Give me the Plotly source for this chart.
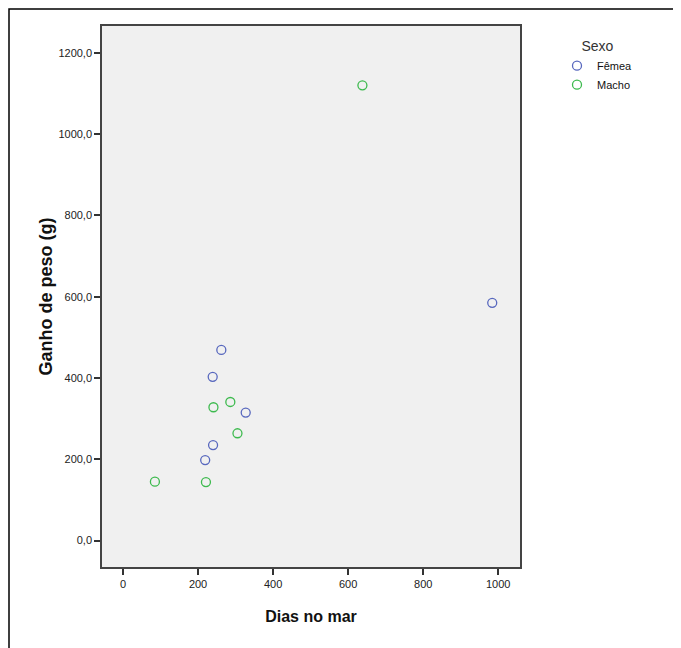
import plotly.graph_objects as go

# Data
femea_dias = [262, 239, 327, 240, 219, 984]
femea_ganho = [469, 403, 315, 235, 198, 585]
macho_dias = [638, 286, 241, 305, 85, 221]
macho_ganho = [1120, 341, 328, 264, 145, 144]

x_ticks = [0, 200, 400, 600, 800, 1000]
y_ticks = [0, 200, 400, 600, 800, 1000, 1200]
y_labels = ["0,0", "200,0", "400,0", "600,0", "800,0", "1000,0", "1200,0"]

W, H = 681, 648
L, R, T, B = 94, 169, 18, 89
pw, ph = W - L - R, H - T - B

fig = go.Figure()
fig.add_trace(go.Scatter(x=femea_dias, y=femea_ganho, mode="markers", name="Fêmea",
                         marker=dict(symbol="circle-open", size=9, color="#5868BE",
                                     line=dict(width=1.3, color="#5868BE"))))
fig.add_trace(go.Scatter(x=macho_dias, y=macho_ganho, mode="markers", name="Macho",
                         marker=dict(symbol="circle-open", size=9, color="#3DBA4E",
                                     line=dict(width=1.3, color="#3DBA4E"))))

def px_x(p):
    return (p - L) / pw

def px_y(p):
    return 1 - (p - T) / ph

fig.add_shape(type="rect", xref="paper", yref="paper",
              x0=px_x(1), x1=px_x(700), y0=px_y(1), y1=px_y(700),
              line=dict(color="black", width=1.5), fillcolor="rgba(0,0,0,0)", layer="below")

fig.update_layout(
    width=W, height=H,
    margin=dict(l=L, r=R, t=T, b=B),
    paper_bgcolor="white",
    plot_bgcolor="#F0F0F0",
    font=dict(family="Liberation Sans, Arial, sans-serif", size=11, color="#222"),
    showlegend=True,
    legend=dict(
        title=dict(text="Sexo", side="top center", font=dict(size=14, color="#333")),
        x=px_x(549), y=px_y(25), xanchor="left", yanchor="top",
        font=dict(size=11, color="#111"),
        bgcolor="rgba(0,0,0,0)", tracegroupgap=0, itemwidth=30,
    ),
    xaxis=dict(
        range=[-56, 1058], tickvals=x_ticks, ticks="outside", ticklen=6, tickwidth=1.5,
        tickcolor="#333", showline=True, linecolor="#444", linewidth=1.5, mirror=True,
        showgrid=False, zeroline=False,
        title=dict(text="<b>Dias no mar</b>", font=dict(size=16, color="#111"), standoff=22),
    ),
    yaxis=dict(
        range=[-65, 1266], tickvals=y_ticks, ticktext=y_labels, ticks="outside", ticklen=6,
        tickwidth=1.5, tickcolor="#333", showline=True, linecolor="#444", linewidth=1.5,
        mirror=True, showgrid=False, zeroline=False,
        title=dict(text="<b>Ganho de peso (g)</b>", font=dict(size=18, color="#111"), standoff=1),
    ),
)

fig.write_html("out.html")
